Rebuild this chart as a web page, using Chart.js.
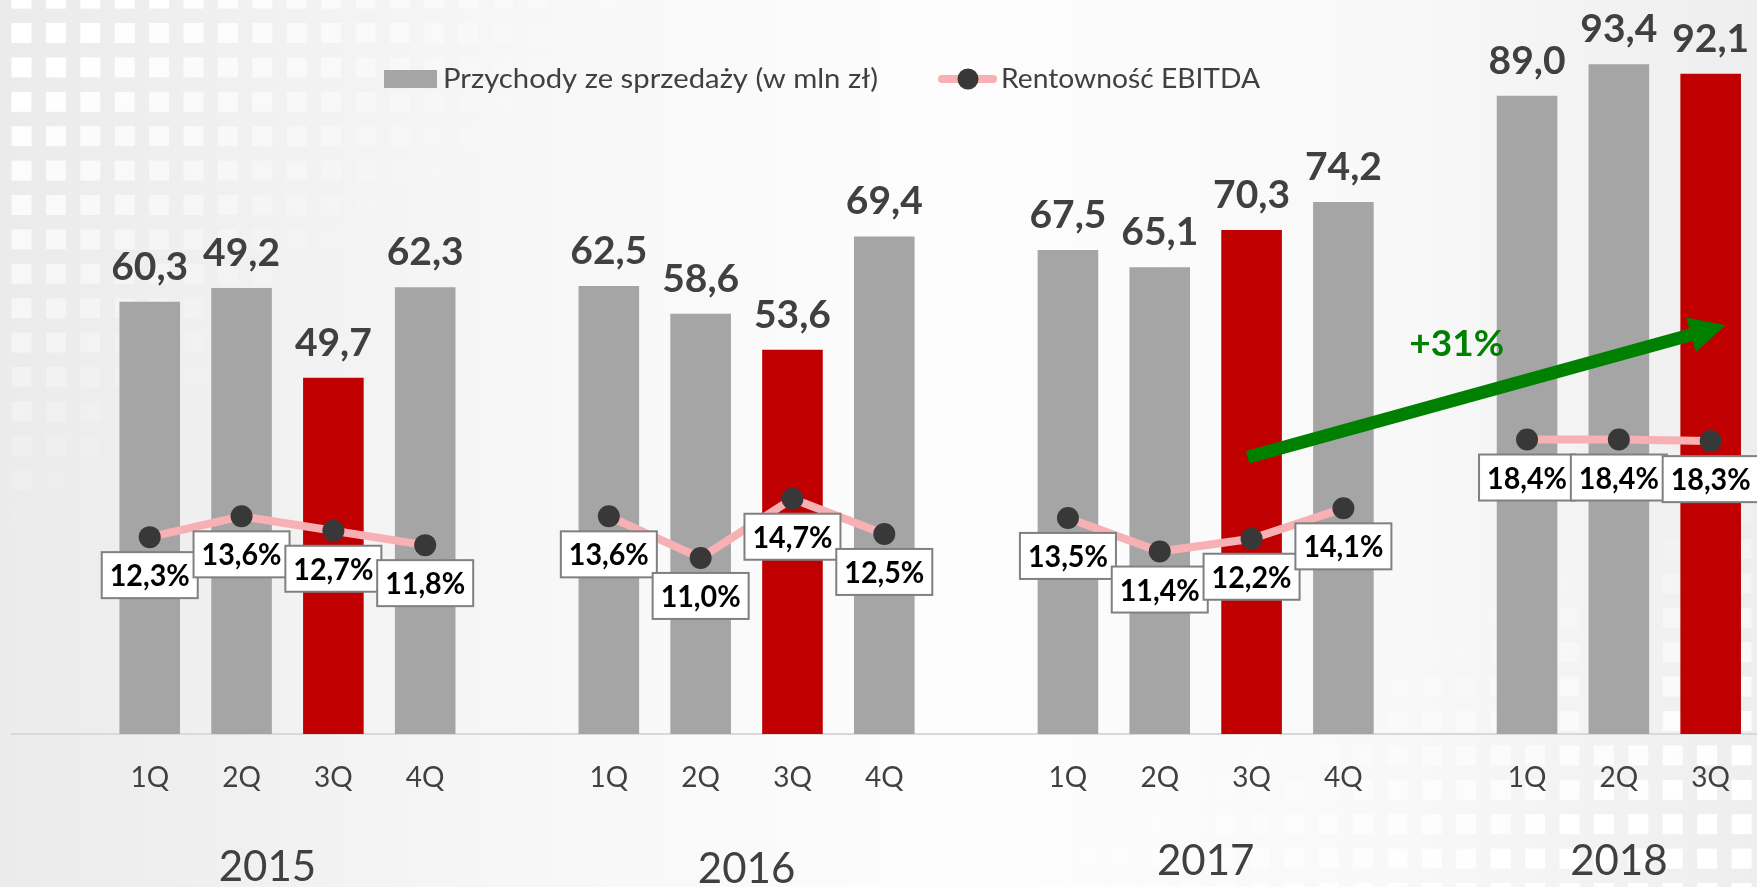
<!DOCTYPE html>
<html>
<head>
<meta charset="utf-8">
<script src="https://cdn.jsdelivr.net/npm/chart.js@4.4.0/dist/chart.umd.min.js"></script>
<style>
    html, body { margin: 0; padding: 0; background: #f4f4f4; }
    #wrap { width: 1757px; height: 887px; }
</style>
</head>
<body>
<div id="wrap"><canvas id="chart" width="1757" height="887"></canvas></div>
<script>
(function () {
    "use strict";

    // Categories (empty slots separate the years)
    var quarters = ['', '1Q', '2Q', '3Q', '4Q', '', '1Q', '2Q', '3Q', '4Q', '', '1Q', '2Q', '3Q', '4Q', '', '1Q', '2Q', '3Q'];
    var years = ['2015', '2016', '2017', '2018'];
    var yearFirst = [1, 6, 11, 16];
    var yearLast = [4, 9, 14, 18];

    // Revenue (bar heights as drawn) and the printed labels
    var revenue = [null, 60.3, 62.2, 49.7, 62.3, null, 62.5, 58.6, 53.6, 69.4, null, 67.5, 65.1, 70.3, 74.2, null, 89.0, 93.4, 92.1];
    var revenueLabels = ['', '60,3', '49,2', '49,7', '62,3', '', '62,5', '58,6', '53,6', '69,4', '', '67,5', '65,1', '70,3', '74,2', '', '89,0', '93,4', '92,1'];

    // EBITDA margin, %
    var ebitda = [null, 12.3, 13.6, 12.7, 11.8, null, 13.6, 11.0, 14.7, 12.5, null, 13.5, 11.4, 12.2, 14.1, null, 18.4, 18.4, 18.3];

    var seriesNames = ['Przychody ze sprzedaży (w mln zł)', 'Rentowność EBITDA'];
    var growthLabel = '+31%';

    var GRAY = '#a5a5a5', RED = '#c00000', PINK = '#f7b0b3', DOT = '#383838', TXT = '#404040';
    var FONT = 'Lato, "Open Sans", sans-serif';

    function pct(v) {
        return v.toFixed(1).replace('.', ',') + '%';
    }

    // draw text squeezed/stretched to a given width (narrow Calibri-like look)
    function fitText(ctx, text, x, y, width) {
        var w = ctx.measureText(text).width;
        ctx.save();
        ctx.translate(x, y);
        ctx.scale(width / w, 1);
        ctx.fillText(text, 0, 0);
        ctx.restore();
    }

    // Background with fading square pattern
    var backgroundPlugin = {
        id: 'bg',
        beforeDraw: function (chart) {
            var ctx = chart.ctx, w = chart.width, h = chart.height;
            ctx.save();
            var g = ctx.createLinearGradient(0, 0, w, 0);
            g.addColorStop(0, '#ebebeb');
            g.addColorStop(0.3, '#f7f7f7');
            g.addColorStop(0.55, '#fdfdfd');
            g.addColorStop(0.8, '#f8f8f8');
            g.addColorStop(1, '#eeeeee');
            ctx.fillStyle = g;
            ctx.fillRect(0, 0, w, h);

            var pitch = 34.4, size = 20;
            for (var x = 11.5; x < w; x += pitch) {
                for (var y = 23 - pitch; y < h; y += pitch) {
                    var a1 = 1.2 - x / 560 - y / 460;
                    var a2 = 1.5 - (w - x) / 600 - (h - y) / 300;
                    var a = Math.min(1, Math.max(0, a1, a2));
                    if (a <= 0) continue;
                    ctx.fillStyle = 'rgba(255,255,255,' + a.toFixed(3) + ')';
                    ctx.fillRect(x, y, size, size);
                }
            }
            ctx.restore();
        }
    };

    // Value labels, percentage boxes, arrow, years and legend
    var decorPlugin = {
        id: 'decor',
        afterDatasetsDraw: function (chart) {
            var ctx = chart.ctx;
            var xs = chart.scales.x, ys = chart.scales.y;
            ctx.save();

            // bar value labels
            var bars = chart.getDatasetMeta(0).data;
            ctx.font = 'bold 39px ' + FONT;
            ctx.fillStyle = TXT;
            ctx.textAlign = 'center';
            ctx.textBaseline = 'alphabetic';
            bars.forEach(function (bar, i) {
                if (revenue[i] == null) return;
                ctx.fillText(revenueLabels[i], bar.x, bar.y - 22);
            });

            // growth arrow
            var tx = xs.getPixelForValue(13) - 4, ty = ys.getPixelForValue(38.6);
            var hx = xs.getPixelForValue(18) + 15, hy = ys.getPixelForValue(57);
            var dx = hx - tx, dy = hy - ty, len = Math.sqrt(dx * dx + dy * dy);
            var ux = dx / len, uy = dy / len, nx = -uy, ny = ux;
            var headLen = 36, headHalf = 18;
            var bx = hx - ux * headLen, by = hy - uy * headLen;
            ctx.strokeStyle = '#008000';
            ctx.fillStyle = '#008000';
            ctx.lineWidth = 13;
            ctx.lineCap = 'butt';
            ctx.beginPath();
            ctx.moveTo(tx, ty);
            ctx.lineTo(bx + ux * 2, by + uy * 2);
            ctx.stroke();
            ctx.beginPath();
            ctx.moveTo(hx, hy);
            ctx.lineTo(bx + nx * headHalf, by + ny * headHalf);
            ctx.lineTo(bx - nx * headHalf, by - ny * headHalf);
            ctx.closePath();
            ctx.fill();

            ctx.font = 'bold 37px ' + FONT;
            ctx.textBaseline = 'middle';
            ctx.fillText(growthLabel, (tx + hx) / 2 - 30, (ty + hy) / 2 - 47);
            ctx.restore();
        },
        afterDraw: function (chart) {
            var ctx = chart.ctx;
            var xs = chart.scales.x;
            ctx.save();

            // percentage boxes
            var pts = chart.getDatasetMeta(1).data;
            ctx.font = 'bold 31px ' + FONT;
            ctx.textAlign = 'center';
            ctx.textBaseline = 'middle';
            pts.forEach(function (p, i) {
                if (ebitda[i] == null) return;
                var cx = p.x, cy = p.y + 38, bw = 96, bh = 46;
                ctx.fillStyle = '#ffffff';
                ctx.fillRect(cx - bw / 2, cy - bh / 2, bw, bh);
                ctx.strokeStyle = '#808080';
                ctx.lineWidth = 2;
                ctx.strokeRect(cx - bw / 2, cy - bh / 2, bw, bh);
                ctx.fillStyle = '#000000';
                fitText(ctx, pct(ebitda[i]), cx, cy + 1, 80);
            });

            // year labels under quarter ticks
            var yearDx = [-20, 0, 0, 0], yearY = [867, 869, 861, 861];
            ctx.font = '42px ' + FONT;
            ctx.fillStyle = TXT;
            years.forEach(function (yr, k) {
                var x = (xs.getPixelForValue(yearFirst[k]) + xs.getPixelForValue(yearLast[k])) / 2;
                ctx.fillText(yr, x + yearDx[k], yearY[k]);
            });

            // legend
            ctx.fillStyle = GRAY;
            ctx.fillRect(384, 70, 53, 18);
            ctx.font = '26px ' + FONT;
            ctx.fillStyle = TXT;
            ctx.textAlign = 'left';
            fitText(ctx, seriesNames[0], 443, 80, 435);
            ctx.strokeStyle = PINK;
            ctx.lineWidth = 8;
            ctx.lineCap = 'round';
            ctx.beginPath();
            ctx.moveTo(942, 79);
            ctx.lineTo(993, 79);
            ctx.stroke();
            ctx.fillStyle = DOT;
            ctx.beginPath();
            ctx.arc(968, 79, 10.5, 0, Math.PI * 2);
            ctx.fill();
            ctx.fillStyle = TXT;
            fitText(ctx, seriesNames[1], 1001, 80, 259);
            ctx.restore();
        }
    };

    var ctx = document.getElementById('chart').getContext('2d');
    var chart = new Chart(ctx, {
        type: 'bar',
        data: {
            labels: quarters,
            datasets: [
                {
                    type: 'bar',
                    label: seriesNames[0],
                    data: revenue,
                    yAxisID: 'y',
                    backgroundColor: quarters.map(function (q) { return q === '3Q' ? RED : GRAY; }),
                    barPercentage: 0.66,
                    categoryPercentage: 1.0,
                    order: 2
                },
                {
                    type: 'line',
                    label: seriesNames[1],
                    data: ebitda,
                    yAxisID: 'y1',
                    borderColor: PINK,
                    borderWidth: 8,
                    pointRadius: 11,
                    pointHoverRadius: 11,
                    pointBackgroundColor: DOT,
                    pointBorderWidth: 0,
                    spanGaps: false,
                    tension: 0,
                    order: 1
                }
            ]
        },
        options: {
            responsive: false,
            animation: false,
            layout: { autoPadding: false, padding: { left: 12, right: 0, top: 17, bottom: 93 } },
            plugins: {
                legend: { display: false },
                tooltip: { enabled: false }
            },
            scales: {
                x: {
                    grid: { display: false, drawTicks: false },
                    border: { display: true, color: '#d9d9d9', width: 2 },
                    ticks: {
                        color: TXT,
                        font: { family: FONT, size: 28 },
                        padding: 27,
                        autoSkip: false,
                        maxRotation: 0
                    },
                    afterFit: function (s) { s.height = 60; }
                },
                y: { display: false, min: 0, max: 100 },
                y1: { display: false, min: 0, max: 44.8 }
            }
        },
        plugins: [backgroundPlugin, decorPlugin]
    });
})();
</script>
</body>
</html>
